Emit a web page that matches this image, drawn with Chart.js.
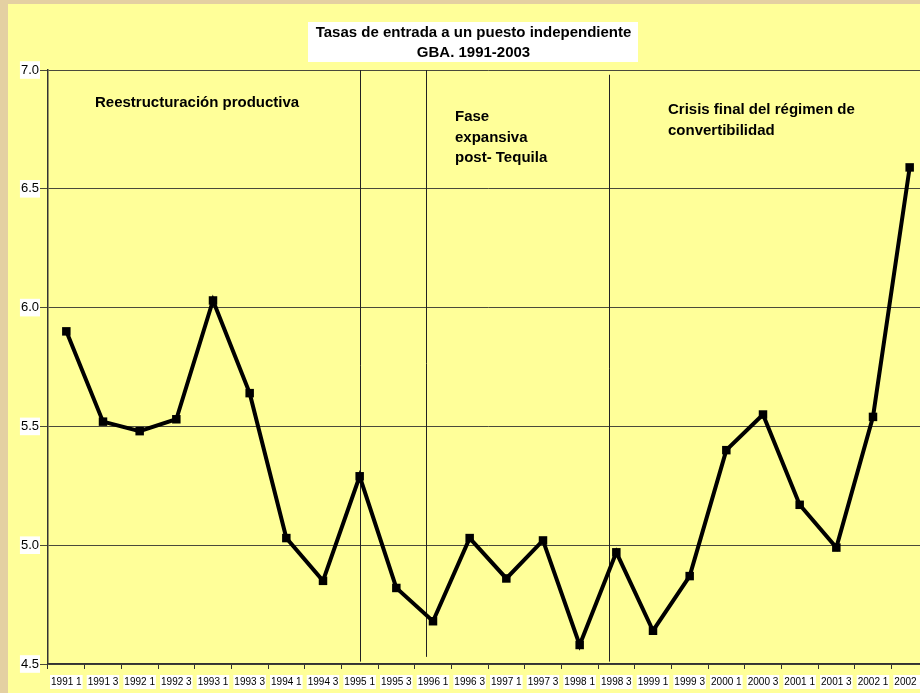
<!DOCTYPE html>
<html>
<head>
<meta charset="utf-8">
<script src="https://cdn.jsdelivr.net/npm/chart.js@4/dist/chart.umd.min.js"></script>
<style>
  html, body { margin: 0; padding: 0; width: 920px; height: 693px; overflow: hidden;
    background: #E4D0A2; }
  #wrap { position: absolute; left: 8px; top: 4px; width: 935px; height: 689px; background: #FFFF99; }
  canvas { display: block; }
</style>
</head>
<body>
<div id="wrap"><canvas id="c" width="935" height="689"></canvas></div>
<script>
const categories = ["1991 1","1991 3","1992 1","1992 3","1993 1","1993 3","1994 1","1994 3",
  "1995 1","1995 3","1996 1","1996 3","1997 1","1997 3","1998 1","1998 3",
  "1999 1","1999 3","2000 1","2000 3","2001 1","2001 3","2002 1","2002 3"];
const tasas = [5.90, 5.52, 5.48, 5.53, 6.03, 5.64, 5.03, 4.85,
  5.29, 4.82, 4.68, 5.03, 4.86, 5.02, 4.58, 4.97,
  4.64, 4.87, 5.40, 5.55, 5.17, 4.99, 5.54, 6.59];
const yTicks = [4.5, 5.0, 5.5, 6.0, 6.5, 7.0];
const titleLines = ["Tasas de entrada a un puesto independiente", "GBA. 1991-2003"];
// period separators: category position, top value, bottom value
const separatorsX = [8.0, 9.81, 14.8];
const separatorsTop = [7.0, 7.0, 6.98];
const separatorsBottom = [4.51, 4.53, 4.51];
const periodLabels = [
  ["Reestructuración productiva"],
  ["Fase", "expansiva", "post- Tequila"],
  ["Crisis final del régimen de", "convertibilidad"]
];

const FONT = "'Liberation Sans', Arial, sans-serif";

const decor = {
  id: 'decor',
  beforeDatasetsDraw(chart) {
    const ctx = chart.ctx, x = chart.scales.x, y = chart.scales.y;
    ctx.save();
    ctx.strokeStyle = '#222';
    ctx.lineWidth = 1;
    separatorsX.forEach((v, i) => {
      const px = Math.round(x.getPixelForValue(v)) + 0.5;
      ctx.beginPath();
      ctx.moveTo(px, y.getPixelForValue(separatorsTop[i]));
      ctx.lineTo(px, y.getPixelForValue(separatorsBottom[i]));
      ctx.stroke();
    });
    ctx.fillStyle = '#000';
    ctx.font = "bold 15px " + FONT;
    ctx.textBaseline = 'middle';
    ctx.textAlign = 'left';
    const pos = [[87, 99], [447, 113], [660, 106]];
    periodLabels.forEach((lines, i) => {
      lines.forEach((t, j) => ctx.fillText(t, pos[i][0], pos[i][1] + j * 20.5));
    });
    // title
    ctx.fillStyle = '#fff';
    ctx.fillRect(300, 18, 330, 40);
    ctx.fillStyle = '#000';
    ctx.font = "bold 15px " + FONT;
    ctx.textAlign = 'center';
    ctx.fillText(titleLines[0], 465.5, 29);
    ctx.fillText(titleLines[1], 465.5, 49);
    ctx.restore();
  }
};

new Chart(document.getElementById('c'), {
  type: 'line',
  data: {
    labels: categories,
    datasets: [{
      data: tasas,
      borderColor: '#000',
      borderWidth: 4,
      pointStyle: 'rect',
      pointRadius: 6,
      pointBackgroundColor: '#000',
      pointBorderColor: '#000',
      pointBorderWidth: 0,
      tension: 0,
      clip: false
    }]
  },
  options: {
    responsive: false,
    animation: false,
    layout: { padding: { top: 66, left: 0, right: 15, bottom: 0 } },
    plugins: { legend: { display: false }, title: { display: false }, tooltip: { enabled: false } },
    scales: {
      x: {
        offset: true,
        afterFit(s) { s.height = 29; },
        border: { color: '#333', width: 1.5 },
        grid: { offset: true, drawOnChartArea: false, drawTicks: true, tickLength: 5, color: '#333' },
        ticks: {
          autoSkip: false, maxRotation: 0, minRotation: 0,
          color: '#000', font: { family: FONT, size: 10 }, padding: 7,
          showLabelBackdrop: true, backdropColor: '#fff', backdropPadding: { x: 1, y: 1 }
        }
      },
      y: {
        min: 4.5, max: 7.0,
        afterFit(s) { s.width = 40; },
        afterBuildTicks(s) { s.ticks = yTicks.map(v => ({ value: v })); },
        border: { color: '#333', width: 1.5 },
        grid: { color: '#4a4a3a', lineWidth: 1, drawTicks: true, tickLength: 8 },
        ticks: {
          color: '#000', font: { family: FONT, size: 13 }, padding: 1,
          callback: v => v.toFixed(1),
          showLabelBackdrop: true, backdropColor: '#fff', backdropPadding: { x: 1, y: 1 }
        }
      }
    }
  },
  plugins: [decor]
});
</script>
</body>
</html>
